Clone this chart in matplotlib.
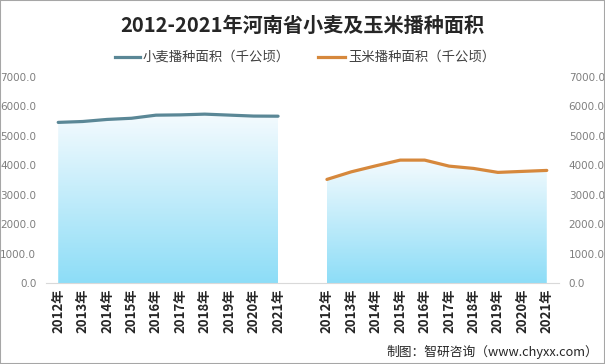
import matplotlib
matplotlib.use("Agg")
import matplotlib.pyplot as plt
import numpy as np
from matplotlib.patches import Rectangle

plt.rcParams['font.family'] = ['Noto Sans CJK SC', 'DejaVu Sans']

years = ["2012年", "2013年", "2014年", "2015年", "2016年", "2017年", "2018年", "2019年", "2020年", "2021年"]
wheat = [5460, 5490, 5560, 5600, 5705, 5715, 5740, 5707, 5674, 5670]
corn = [3525, 3783, 3986, 4180, 4180, 3976, 3898, 3763, 3797, 3830]
yticks = [0, 1000, 2000, 3000, 4000, 5000, 6000, 7000]
wheat_label = "小麦播种面积（千公顷）"
corn_label = "玉米播种面积（千公顷）"
title = "2012-2021年河南省小麦及玉米播种面积"
source = "制图：智研咨询（www.chyxx.com）"

W, H = 605, 364
fig = plt.figure(figsize=(W / 100, H / 100), dpi=100)
fig.patch.set_facecolor('white')

ax = fig.add_axes([46 / W, (H - 283.3) / H, (559 - 46) / W, (283.3 - 77) / H])
ax.set_facecolor('white')

xw = np.arange(len(years))
xc = np.arange(len(years)) + len(years) + 1

bottom = np.array([141, 221, 247]) / 255
top = np.array([246, 251, 254]) / 255

def gradient_fill(x, y):
    poly = ax.fill_between(x, y, 0, facecolor='none', edgecolor='none')
    ymax = max(y) + 80
    n = 256
    t = np.linspace(0, 1, n)[:, None]
    img = bottom[None, :] * (1 - t) + top[None, :] * t
    img = img[:, None, :]
    im = ax.imshow(img, extent=[x[0], x[-1], 0, ymax], origin='lower',
                   aspect='auto', zorder=1, interpolation='bilinear')
    im.set_clip_path(poly.get_paths()[0], transform=ax.transData)

gradient_fill(xw, wheat)
gradient_fill(xc, corn)

lw, = ax.plot(xw, wheat, color='#5a8796', lw=2.3, zorder=3, solid_capstyle='round')
lc, = ax.plot(xc, corn, color='#d6883c', lw=2.3, zorder=3, solid_capstyle='round')

ax.set_xlim(-0.5, 2 * len(years) + 0.5)
ax.set_ylim(0, 7000)
ax.set_yticks(yticks)
ax.set_yticklabels([f"{v:.1f}" for v in yticks])
ax.tick_params(axis='y', length=0, labelsize=7.5, labelcolor='#7f7f7f',
               labelleft=True, labelright=True, pad=7, labelfontfamily='DejaVu Sans')
ax.set_xticks(list(xw) + list(xc))
ax.set_xticklabels(years + years, rotation=90, fontsize=9.5, fontweight='bold', color='#262626')
ax.tick_params(axis='x', length=0, pad=4)
for s in ['top', 'right', 'left']:
    ax.spines[s].set_visible(False)
ax.spines['bottom'].set_color('#d9d9d9')
ax.spines['bottom'].set_linewidth(0.8)

fig.text(0.5, 1 - 25 / H, title, ha='center', va='center', fontsize=14.5,
         fontweight='bold', color='#262626')

# legend
ly = 1 - 57 / H
fig.add_artist(plt.Line2D([115 / W, 140 / W], [ly, ly], color='#5a8796', lw=2.3))
fig.text(143 / W, ly, wheat_label, ha='left', va='center', fontsize=9.6, color='#404040')
fig.add_artist(plt.Line2D([318 / W, 345 / W], [ly, ly], color='#d6883c', lw=2.3))
fig.text(348 / W, ly, corn_label, ha='left', va='center', fontsize=9.6, color='#404040')

fig.text(598 / W, 1 - 352 / H, source, ha='right', va='center', fontsize=9.2, color='#262626')

fig.add_artist(Rectangle((0, 0), 1, 1, transform=fig.transFigure, fill=False,
                         edgecolor='#a6a6a6', lw=1.5))

fig.savefig('out.png', dpi=100, facecolor='white')
